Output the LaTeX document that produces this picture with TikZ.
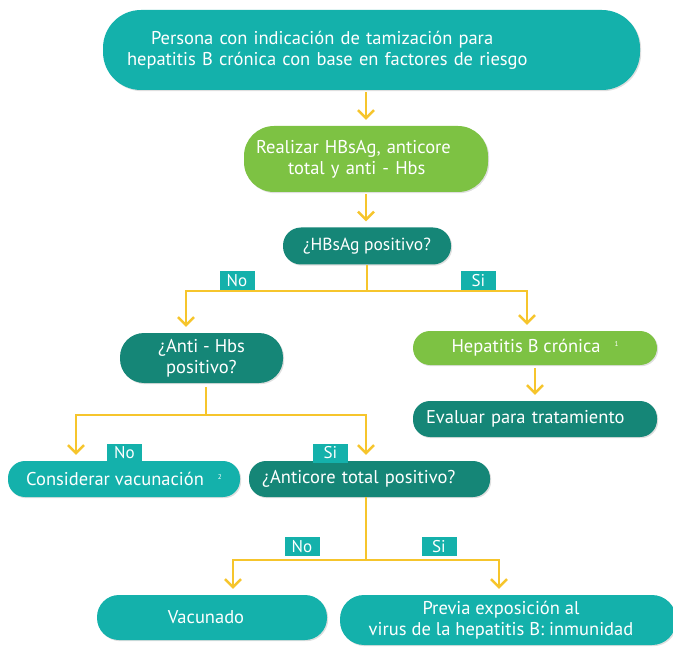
\documentclass[tikz,border=0pt]{standalone}
\usepackage{fontspec}
\setmainfont{PT Sans}
\usetikzlibrary{positioning, arrows.meta, shadows}

\definecolor{cTeal}{HTML}{14B1AB}
\definecolor{cDark}{HTML}{158677}
\definecolor{cGreen}{HTML}{7DC243}
\definecolor{cLine}{HTML}{F6C52C}

\newcommand{\fnote}[1]{\raisebox{6pt}{\fontsize{7}{8}\selectfont #1}}

\begin{document}
\begin{tikzpicture}[x=1pt, y=-1pt,
    box/.style={inner sep=0pt, text=white, align=center,
        font=\fontsize{18.5}{21}\selectfont,
        drop shadow={shadow xshift=1.2pt, shadow yshift=-1.2pt, opacity=0.25}},
    lightnode/.style={box, fill=cTeal},
    darknode/.style={box, fill=cDark},
    greennode/.style={box, fill=cGreen},
    answer/.style={fill=cTeal, text=white, inner sep=0pt, minimum width=35pt,
        minimum height=19pt, font=\fontsize{17}{18}\selectfont},
    link/.style={draw=cLine, line width=2.5pt},
    arrow/.style={link, -{Straight Barb[length=8pt, width=16pt]}, shorten >=6pt}]
    \useasboundingbox (0,0) rectangle (673,650);

    \node [lightnode, text width=489pt, inner xsep=24pt, minimum height=80pt, rounded corners=38pt, align=left] (start) at (371.5,50)
        {\hspace*{24pt}Persona con indicación de tamización para\\hepatitis B crónica con base en factores de riesgo};
    \node [greennode, text width=220pt, inner xsep=12pt, minimum height=66pt, rounded corners=30pt, align=left] (tests) at (366,159)
        {Realizar HBsAg, anticore\\\hspace*{32pt}total y anti - Hbs};
    \node [darknode, minimum width=168pt, minimum height=37pt, rounded corners=18pt, font=\fontsize{17.5}{20}\selectfont] (q1) at (367,246) {¿HBsAg positivo?};
    \node [darknode, minimum width=163pt, minimum height=50pt, rounded corners=24pt] (q2) at (201.5,358) {¿Anti - Hbs\\positivo?};
    \node [greennode, minimum width=244pt, minimum height=34pt, rounded corners=17pt] (chronic) at (535,348)
        {Hepatitis B crónica\hspace{14pt}\fnote{1}};
    \node [darknode, text width=218pt, inner xsep=13pt, minimum height=36pt, rounded corners=17pt, align=left] (treat) at (535,419)
        {Evaluar para tratamiento};
    \node [lightnode, minimum width=232pt, minimum height=36pt, rounded corners=17pt] (vaccine) at (124,479)
        {Considerar vacunación\hspace{14pt}\fnote{2}};
    \node [darknode, text width=215pt, inner xsep=13pt, minimum height=36pt, rounded corners=17pt, align=left] (q3) at (369.5,479)
        {¿Anticore total positivo?};
    \node [lightnode, minimum width=230pt, minimum height=45pt, rounded corners=22pt] (vaccinated) at (212,617.5) {Vacunado\hspace*{12pt}};
    \node [lightnode, minimum width=336pt, minimum height=50pt, rounded corners=24pt] (immune) at (508,620)
        {Previa exposición al\hspace*{14pt}\\virus de la hepatitis B: inmunidad\hspace*{14pt}};

    % branch points of the yellow lines
    \coordinate (no1) at (186,291);
    \coordinate (si1) at (527,291);
    \coordinate (fork2) at (206,415);
    \coordinate (no2) at (76,415);
    \coordinate (si2) at (366,415);
    \coordinate (fork3) at (366,560);
    \coordinate (no3) at (233,560);
    \coordinate (si3) at (499,560);

    \draw [arrow, shorten <=2pt] (tests.north |- start.south) -- (tests.north);
    \draw [arrow, shorten <=2pt] (tests.south) -- (tests.south |- q1.north);
    \draw [arrow] (q1.south) |- (no1) -- (no1 |- q2.north);
    \draw [arrow] (q1.south) |- (si1) -- (si1 |- chronic.north);
    \draw [arrow, shorten <=3pt] (chronic.south) -- (treat.north);
    \draw [arrow, shorten <=4pt] (fork2 |- q2.south) -- (fork2) -| (no2 |- vaccine.north);
    \draw [arrow] (fork2) -| (si2 |- q3.north);
    \draw [arrow] (fork3 |- q3.south) -- (fork3) -| (no3 |- vaccinated.north);
    \draw [arrow] (fork3) -| (si3 |- immune.north);

    \node [answer] (no1lbl) at (237,281) {No};
    \node [answer] (si1lbl) at (478.5,281) {Si};
    \node [answer] (no2lbl) at (124.5,453) {No};
    \node [answer] (si2lbl) at (330.5,453) {Si};
    \node [answer] (no3lbl) at (302,546.5) {No};
    \node [answer] (si3lbl) at (439,546.5) {Si};
\end{tikzpicture}
\end{document}
